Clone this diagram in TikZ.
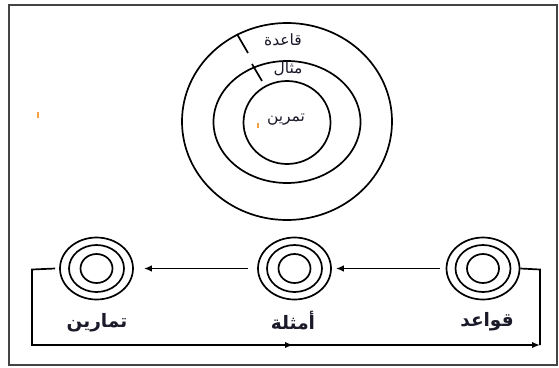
\documentclass[tikz,border=0pt]{standalone}
\usepackage{fontspec}
\newfontfamily\arabicfont[Script=Arabic]{DejaVu Sans}
\TeXXeTstate=1
\usetikzlibrary{shapes.geometric,arrows.meta}
\definecolor{framecol}{HTML}{444444}
\definecolor{dotcol}{HTML}{F5A040}
\definecolor{labcol}{HTML}{1A1A2A}
\tikzset{
  ring/.style={draw, ellipse, line width=1.7pt, inner sep=0pt},
  toplabel/.style={font=\arabicfont\fontsize{15.5}{18}\selectfont, text=labcol, inner sep=0pt},
  botlabel/.style={font=\arabicfont\bfseries\fontsize{18.5}{22}\selectfont, text=labcol, inner sep=0pt},
  conn/.style={line width=1.7pt},
  arr/.style={line width=1.7pt, -{Latex[length=8pt,width=6.5pt]}},
}
\begin{document}
\begin{tikzpicture}[x=1pt,y=-1pt]
\useasboundingbox (0,0) rectangle (559,367);
\draw[framecol, line width=2pt] (9,4.5) rectangle (557,365);
% big concentric circles
\node[ring, minimum width=210, minimum height=197] (outer) at (287,121.5) {};
\node[ring, minimum width=147, minimum height=122] (middle) at (287,122) {};
\node[ring, minimum width=87, minimum height=83] (inner) at (287,122.5) {};
\coordinate (t1a) at (237,34); \coordinate (t1b) at (248,53);
\coordinate (t2a) at (252,64); \coordinate (t2b) at (262,81);
\draw[conn] (t1a) -- (t1b);
\draw[conn] (t2a) -- (t2b);
\node[toplabel] (lq) at (283,40) {\beginR قاعدة\endR};
\node[toplabel] (lm) at (288,69) {\beginR مثال\endR};
\node[toplabel] (lt) at (286,120) {\beginR تمرين\endR};
% small orange marks
\fill[dotcol] (37,112) rectangle (39,118);
\fill[dotcol] (257,123) rectangle (259,128);
% bottom rings
\foreach \n/\x in {tam/96.5, amt/294.5, qaw/483}{
  \node[ring, minimum width=73, minimum height=62] (\n) at (\x,268.5) {};
  \node[ring, minimum width=55, minimum height=47] (\n2) at (\x,268.5) {};
  \node[ring, minimum width=32, minimum height=29] (\n3) at (\x,268.5) {};
}
\node[botlabel] (ltam) at (97,323) {\beginR تمارين\endR};
\node[botlabel] (lamt) at (293,321) {\beginR أمثلة\endR};
\node[botlabel] (lqaw) at (487,322) {\beginR قواعد\endR};
% arrows between rings
\draw[arr, shorten <=6pt, shorten >=4pt] (qaw.west) -- (amt.east);
\draw[arr, shorten <=9pt, shorten >=10pt] (amt.west) -- (tam.west -| tam.east);
% feedback loop
\coordinate (c1) at (32,269.5);
\coordinate (c2) at (32,345);
\coordinate (cm) at (293,345);
\coordinate (c3) at (540,345);
\coordinate (c4) at (540,269.5);
\draw[conn] ([xshift=-4pt]tam.west) -- (c1) -- (c2) -- (cm);
\draw[arr] (c2) -- (cm);
\draw[arr] (cm) -- (c3);
\draw[conn] (c3) -- (c4) -- (qaw.east);
\end{tikzpicture}
\end{document}
